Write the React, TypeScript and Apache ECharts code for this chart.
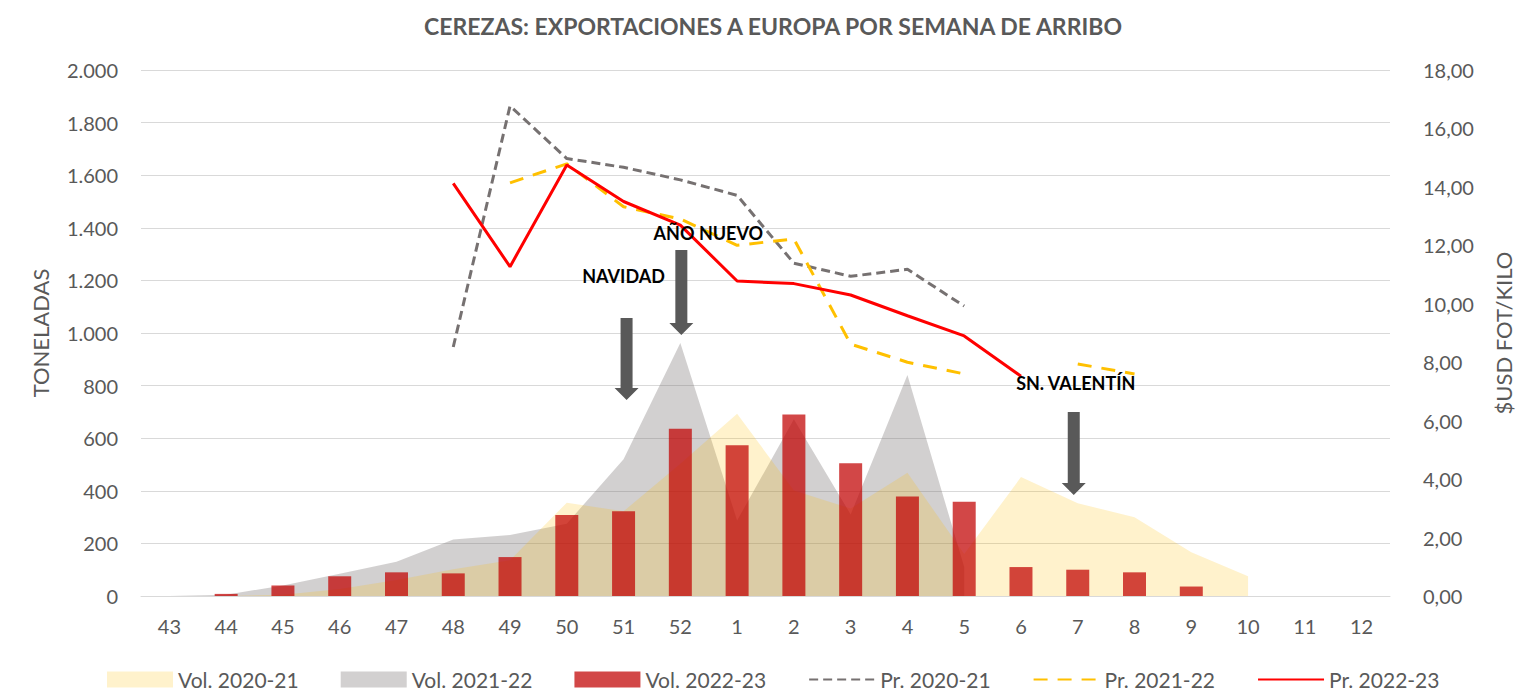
import React, { useEffect, useRef } from "react";
import * as echarts from "echarts";

const weeks = ["43","44","45","46","47","48","49","50","51","52","1","2","3","4","5","6","7","8","9","10","11","12"];

const vol2021 = [0, 0, 5, 27, 61, 102, 136, 355, 322, 503, 693, 401, 333, 469, 160, 452, 353, 299, 166, 75, null, null];
const vol2122 = [0, 5, 40, 85, 130, 215, 232, 275, 520, 962, 287, 672, 310, 840, 110, null, null, null, null, null, null, null];
const vol2223 = [null, 8, 40, 75, 90, 86, 148, 308, 322, 636, 573, 690, 505, 378, 358, 110, 100, 90, 36, null, null, null];

const pr2021 = [null, null, null, null, null, 8.52, 16.77, 14.97, 14.67, 14.24, 13.71, 11.39, 10.94, 11.18, 9.92, null, null, null, null, null, null, null];
const pr2122 = [null, null, null, null, null, null, 14.14, 14.79, 13.32, 12.9, 12.0, 12.22, 8.62, 8.0, 7.6, null, 7.94, 7.6, null, null, null, null];
const pr2223 = [null, null, null, null, null, 14.12, 11.27, 14.75, 13.5, 12.69, 10.78, 10.69, 10.3, 9.59, 8.9, 7.52, null, null, null, null, null, null];

const leftTicks = { min: 0, max: 2000, interval: 200 };
const rightTicks = { min: 0, max: 18, interval: 2 };

const annotations = [
  { label: "NAVIDAD", week: "51", labelVal: 1217, labelDx: 0, top: 1057, tip: 745, dx: 3 },
  { label: "AÑO NUEVO", week: "52", labelVal: 1380, labelDx: 28, top: 1316, tip: 992, dx: 1 },
  { label: "SN. VALENTÍN", week: "7", labelVal: 810, labelDx: -2, top: 700, tip: 384, dx: -4 },
];

const FONT = "Lato, 'Noto Sans', sans-serif";
const GREY_TXT = "#595959";

export default function App() {
  const ref = useRef<HTMLDivElement>(null);
  useEffect(() => {
    if (!ref.current) return;
    const chart = echarts.init(ref.current, undefined, { renderer: "svg" });
    const hideSymbol = { opacity: 0 };
    const option: any = {
      animation: false,
      textStyle: { fontFamily: FONT },
      title: {
        text: "CEREZAS: EXPORTACIONES A EUROPA POR SEMANA DE ARRIBO",
        left: 768,
        textAlign: "center",
        top: 9,
        textStyle: { fontFamily: FONT, fontWeight: "bold", fontSize: 23, color: GREY_TXT },
      },
      grid: { left: 141, right: 127, top: 70, bottom: 95, containLabel: false },
      legend: {
        left: 107,
        top: 669,
        padding: 0,
        itemWidth: 66,
        itemHeight: 16,
        itemGap: 42,
        textStyle: { fontFamily: FONT, fontSize: 21, lineHeight: 20, color: GREY_TXT },
        data: [
          { name: "Vol. 2020-21", icon: "rect" },
          { name: "Vol. 2021-22", icon: "rect" },
          { name: "Vol. 2022-23", icon: "rect" },
          { name: "Pr. 2020-21", itemStyle: hideSymbol },
          { name: "Pr. 2021-22", itemStyle: hideSymbol },
          { name: "Pr. 2022-23", itemStyle: hideSymbol },
        ],
      },
      xAxis: {
        type: "category",
        data: weeks,
        boundaryGap: true,
        axisLine: { lineStyle: { color: "#d9d9d9", width: 1 } },
        axisTick: { show: false },
        axisLabel: { color: GREY_TXT, fontSize: 20, margin: 20, fontFamily: FONT },
      },
      yAxis: [
        {
          type: "value",
          ...leftTicks,
          name: "TONELADAS",
          nameLocation: "middle",
          nameRotate: 90,
          nameGap: 90,
          nameTextStyle: { color: GREY_TXT, fontSize: 22, fontFamily: FONT },
          axisLine: { show: false },
          axisTick: { show: false },
          splitLine: { lineStyle: { color: "#d9d9d9", width: 1 } },
          axisLabel: {
            color: GREY_TXT,
            fontSize: 20,
            margin: 23,
            fontFamily: FONT,
            formatter: (v: number) => v.toString().replace(/\B(?=(\d{3})+(?!\d))/g, "."),
          },
        },
        {
          type: "value",
          ...rightTicks,
          name: "$USD FOT/KILO",
          nameLocation: "middle",
          nameRotate: 90,
          nameGap: 102,
          nameTextStyle: { color: GREY_TXT, fontSize: 22, fontFamily: FONT },
          axisLine: { show: false },
          axisTick: { show: false },
          splitLine: { show: false },
          axisLabel: {
            color: GREY_TXT,
            fontSize: 20,
            margin: 33,
            fontFamily: FONT,
            formatter: (v: number) => v.toFixed(2).replace(".", ","),
          },
        },
      ],
      series: [
        {
          name: "Vol. 2021-22",
          type: "line",
          data: vol2122,
          symbol: "none",
          lineStyle: { width: 0 },
          itemStyle: { color: "rgba(118,113,113,0.33)" },
          areaStyle: { color: "rgba(118,113,113,0.33)", opacity: 1 },
          z: 1,
        },
        {
          name: "Vol. 2020-21",
          type: "line",
          data: vol2021,
          symbol: "none",
          lineStyle: { width: 0 },
          itemStyle: { color: "rgba(255,192,0,0.2)" },
          areaStyle: { color: "rgba(255,192,0,0.2)", opacity: 1 },
          z: 2,
        },
        {
          name: "Vol. 2022-23",
          type: "bar",
          data: vol2223,
          barWidth: 23,
          itemStyle: { color: "rgba(192,0,0,0.72)" },
          z: 3,
        },
        {
          name: "Pr. 2020-21",
          type: "line",
          yAxisIndex: 1,
          data: pr2021,
          symbol: "none",
          itemStyle: { color: "#767171" },
          lineStyle: { color: "#767171", width: 3, type: [9, 5] },
          z: 4,
        },
        {
          name: "Pr. 2021-22",
          type: "line",
          yAxisIndex: 1,
          data: pr2122,
          symbol: "none",
          connectNulls: false,
          itemStyle: { color: "#ffc000" },
          lineStyle: { color: "#ffc000", width: 3, type: [14, 10] },
          z: 4,
        },
        {
          name: "Pr. 2022-23",
          type: "line",
          yAxisIndex: 1,
          data: pr2223,
          symbol: "none",
          itemStyle: { color: "#ff0000" },
          lineStyle: { color: "#ff0000", width: 3 },
          z: 5,
        },
      ],
    };
    chart.setOption(option);

    const graphics: any[] = [];
    annotations.forEach((a) => {
      const idx = weeks.indexOf(a.week);
      const pTop = chart.convertToPixel({ xAxisIndex: 0, yAxisIndex: 0 }, [idx, a.top]) as number[];
      const pTip = chart.convertToPixel({ xAxisIndex: 0, yAxisIndex: 0 }, [idx, a.tip]) as number[];
      const pLab = chart.convertToPixel({ xAxisIndex: 0, yAxisIndex: 0 }, [idx, a.labelVal]) as number[];
      const x = pTop[0] + a.dx;
      const yTop = pTop[1];
      const yTip = pTip[1];
      const headH = 12;
      const sw = 6;
      const hw = 12;
      graphics.push({
        type: "polygon",
        z: 20,
        shape: {
          points: [
            [x - sw, yTop],
            [x + sw, yTop],
            [x + sw, yTip - headH],
            [x + hw, yTip - headH],
            [x, yTip],
            [x - hw, yTip - headH],
            [x - sw, yTip - headH],
          ],
        },
        style: { fill: "#595959" },
      });
      graphics.push({
        type: "text",
        z: 21,
        x: pLab[0] + a.labelDx,
        y: pLab[1],
        style: {
          text: a.label,
          fill: "#000000",
          font: `bold 18px ${FONT}`,
          textAlign: "center",
          textVerticalAlign: "middle",
        },
      });
    });
    chart.setOption({ graphic: graphics });

    return () => chart.dispose();
  }, []);
  return (
    <div
      ref={ref}
      style={{ position: "fixed", left: 0, top: 0, width: 1522, height: 691, background: "#ffffff" }}
    />
  );
}
